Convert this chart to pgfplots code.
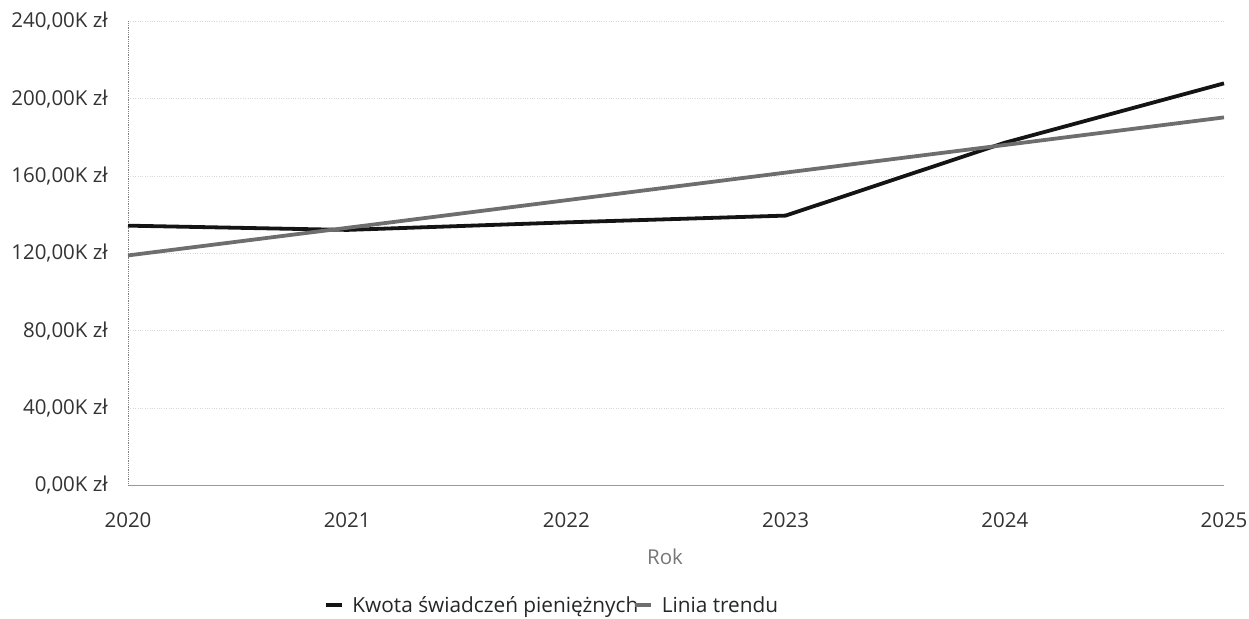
\documentclass[border=0pt]{standalone}
\usepackage{fontspec}
\setmainfont{Open Sans}
\usepackage{pgfplots}
\pgfplotsset{compat=1.18}
\definecolor{tick}{HTML}{333333}
\definecolor{rok}{HTML}{777777}
\definecolor{trend}{HTML}{6E6E6E}
\definecolor{gridc}{HTML}{D8D8D8}
\begin{document}
\begin{tikzpicture}
\begin{axis}[
  scale only axis,
  width=1096bp, height=464bp,
  xmin=2020, xmax=2025,
  ymin=0, ymax=240,
  xtick={2020,2021,2022,2023,2024,2025},
  xticklabels={2020,2021,2022,2023,2024,2025},
  ytick={0,40,80,120,160,200,240},
  yticklabels={0{,}00K zł,40{,}00K zł,80{,}00K zł,120{,}00K zł,160{,}00K zł,200{,}00K zł,240{,}00K zł},
  major tick length=0pt,
  axis x line*=bottom,
  axis y line*=left,
  x axis line style={gray!80, line width=0.8bp, -},
  y axis line style={gray, densely dotted, line width=0.8bp, -},
  ymajorgrids,
  major grid style={gridc, dotted, line width=0.8bp},
  every tick label/.append style={font=\fontsize{20.5bp}{24bp}\selectfont, text=tick, inner sep=0pt},
  yticklabel style={anchor=east, xshift=-20bp},
  xticklabel style={anchor=center, yshift=-34.5bp},
  xlabel={Rok},
  xlabel style={at={(axis description cs:0.490,0)}, anchor=center, yshift=-71.5bp, font=\fontsize{20.5bp}{24bp}\selectfont, text=rok},
  legend columns=2,
  legend style={at={(axis description cs:0.1788,-0.2573)}, anchor=west, draw=none, fill=none,
    inner sep=0pt, outer sep=0pt,
    nodes={inner sep=0pt, font=\fontsize{20.8bp}{24bp}\selectfont, text=black!85},
    /tikz/every odd column/.append style={column sep=9bp},
    /tikz/every even column/.append style={column sep=-5bp}},
  legend image code/.code={\draw[#1, line width=3.5bp] (0bp,0bp) -- (16bp,0bp);},
  clip=false,
]
\addplot[black!92, line width=3.8bp, line join=round] coordinates {
  (2020,134.4) (2021,132.2) (2022,136.1) (2023,139.6) (2024,177.3) (2025,208.0)
};
\addlegendentry{Kwota świadczeń pieniężnych}
\addplot[trend, line width=3.8bp] coordinates {
  (2020,119.0) (2025,190.4)
};
\addlegendentry{Linia trendu}
\end{axis}
\useasboundingbox (-128bp,-133.5bp) rectangle (1121bp,485.5bp);
\end{tikzpicture}
\end{document}
